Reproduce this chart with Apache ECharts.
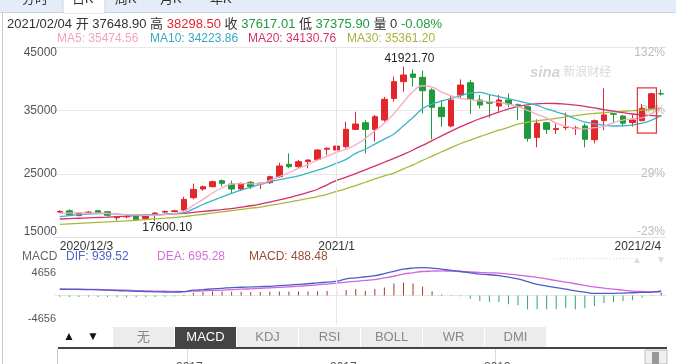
<!DOCTYPE html>
<html><head><meta charset="utf-8">
<script src="https://cdn.jsdelivr.net/npm/echarts/dist/echarts.min.js"></script>
<style>html,body{margin:0;padding:0;background:#fff}#c{width:676px;height:364px}</style>
</head><body><div id="c"></div><script>
const dates = ['2020/12/3','2020/12/4','2020/12/5','2020/12/6','2020/12/7','2020/12/8','2020/12/9','2020/12/10','2020/12/11','2020/12/12','2020/12/13','2020/12/14','2020/12/15','2020/12/16','2020/12/17','2020/12/18','2020/12/19','2020/12/20','2020/12/21','2020/12/22','2020/12/23','2020/12/24','2020/12/25','2020/12/26','2020/12/27','2020/12/28','2020/12/29','2020/12/30','2020/12/31','2021/1/1','2021/1/2','2021/1/3','2021/1/4','2021/1/5','2021/1/6','2021/1/7','2021/1/8','2021/1/9','2021/1/10','2021/1/11','2021/1/12','2021/1/13','2021/1/14','2021/1/15','2021/1/16','2021/1/17','2021/1/18','2021/1/19','2021/1/20','2021/1/21','2021/1/22','2021/1/23','2021/1/24','2021/1/25','2021/1/26','2021/1/27','2021/1/28','2021/1/29','2021/1/30','2021/1/31','2021/2/1','2021/2/2','2021/2/3','2021/2/4'];
const opens  = [19000,19200,18450,18950,19220,19050,18100,18250,18300,18000,18750,19000,19100,19330,21270,22640,23000,23950,23420,22640,23690,23450,23630,24580,26520,26150,26950,27300,28900,28780,29300,32030,33080,32030,33500,36900,39540,40750,40220,38230,35500,32560,37440,39380,36650,36300,35700,36650,35900,35600,30770,33080,32000,32300,32150,32560,30400,33400,34500,34130,33100,33400,35340,37648.90];
const closes = [19100,18550,18800,19000,18900,18500,18250,18300,17800,18400,18850,19100,19200,21000,22580,23000,23790,23530,22640,23530,23000,23550,24580,26260,26150,26940,27200,28780,29050,29400,32030,32870,32030,34030,36760,39540,40590,40220,38120,35500,34030,36650,39010,36760,35870,36150,36650,36020,35800,30620,32980,32030,32150,32400,32250,30460,33400,34300,34400,33000,33500,35340,37647,37617.01];
const lows   = [18900,18380,18350,18800,18750,18300,17650,18000,17700,17900,17600.10,18900,19000,19200,21000,22370,22900,23000,21950,22320,22650,22640,23400,24400,25890,25890,25890,27100,27990,28600,29040,31900,28250,30090,33250,36390,37960,38750,34550,30460,32450,32350,36910,34450,35340,33870,34815,35500,33500,30090,29200,31300,31300,31900,31140,29200,29830,31900,33000,32450,32450,33300,35250,37375.90];
const highs  = [19300,19430,18950,19150,19300,19150,18350,18500,18350,18500,19000,19250,19350,21400,23500,23160,23950,24150,23950,23630,23900,23650,24740,26780,28250,27200,27300,28900,29200,29700,33240,34800,33500,34300,37150,40330,41921.70,41480,41270,38500,36650,37440,39900,39800,37440,37440,37440,37700,36100,35700,33610,33200,32900,34650,32600,32950,33600,38490,34600,34300,34290,36020,37800,38298.50];
const ma5  = [18800,18850,18900,18850,18850,18800,18700,18600,18550,18500,18500,18600,18800,19100,20100,21000,22000,22800,23400,23500,23450,23500,24000,24600,25200,25900,26500,27200,27800,28400,28900,29600,30600,31800,33000,34500,36300,38000,38900,38700,37900,37300,36900,36700,36500,36400,36300,36000,35600,35000,34400,33800,33000,32500,32200,32100,32300,32500,33100,33500,33700,33850,34500,35474.56];
const ma10 = [18280,18450,18600,18700,18780,18750,18680,18600,18540,18560,18600,18680,18780,18910,19500,20200,20800,21400,21950,22450,22900,23350,23750,24100,24400,24700,25150,25600,26100,26700,27300,28250,28900,29700,30500,31300,32600,33900,35300,36000,36500,36900,37350,37750,37850,37500,37200,36850,36500,36150,35800,35250,34800,34300,33700,33200,32900,32700,32560,32600,32700,33000,33500,34223.86];
const ma20 = [17910,17970,18030,18090,18150,18210,18280,18350,18430,18500,18570,18640,18720,18800,18950,19100,19250,19400,19560,19770,20000,20270,20580,20920,21280,21660,22100,22600,23300,24000,24500,25050,25650,26250,26850,27450,28100,28780,29500,30250,31000,31750,32450,33100,33700,34250,34750,35250,35650,35900,36050,36120,36100,36000,35850,35650,35400,35150,34900,34650,34450,34300,34200,34130.76];
const ma30 = [17070,17150,17230,17310,17390,17470,17550,17630,17720,17820,17930,18040,18160,18280,18470,18660,18850,19040,19230,19420,19610,19800,20050,20310,20580,20860,21150,21450,21800,22250,22700,23180,23700,24220,24700,25150,25800,26450,27150,27820,28500,29150,29800,30350,30880,31400,31900,32350,32850,33150,33380,33550,33760,33980,34200,34380,34530,34660,34780,34880,34970,35070,35200,35361.20];
const dif  = [1270,1250,1220,1190,1150,1076,1000,920,850,800,750,710,685,800,1076,1200,1330,1460,1600,1670,1730,1800,1860,1990,2120,2250,2380,2550,2720,2900,3360,3580,3800,4010,4450,4880,5320,5550,5650,5550,5320,5100,4860,4600,4340,4200,4010,3700,3360,2800,2250,1920,1600,1270,940,690,430,430,430,500,560,620,690,939.52];
const dea  = [1300,1290,1270,1250,1220,1180,1120,1060,1000,950,900,860,820,800,880,950,1020,1100,1200,1280,1360,1440,1530,1640,1760,1880,1990,2150,2320,2500,2700,2880,3060,3230,3560,3900,4340,4600,4860,4930,4990,4930,4860,4760,4670,4600,4530,4340,4140,3900,3680,3350,3030,2700,2380,2050,1730,1500,1270,1080,880,810,750,695.28];
const macd = [-250,-300,-300,-250,-300,-300,-350,-350,-350,-300,-300,-250,-200,150,500,700,800,800,750,750,700,700,750,800,800,800,800,850,900,980,1100,1300,980,1300,1630,2410,2600,2410,1760,850,200,-100,-150,-650,-1100,-1300,-1300,-1760,-1960,-2800,-2800,-2800,-2800,-2600,-2800,-2600,-2150,-1500,-1300,-1100,-980,-460,-100,488.48];
const xTickIdx  = [0, 29, 63];
const xTickText = ['2020/12/3', '2021/1', '2021/2/4'];
const priceTicks = [15000, 25000, 35000, 45000];
const priceLabels = ['15000', '25000', '35000', '45000'];
const pctLabels  = ['-23%', '29%', '80%', '132%'];
const macdTicks  = [-4656, 4656];
const macdLabels = ['-4656', '4656'];
const hiIdx = 36, hiVal = 41921.70, loIdx = 10, loVal = 17600.10;
const boxBand = [61, 62, 38550, 31450];

const F = "'Liberation Sans','Noto Sans CJK SC',sans-serif";
const RED = '#e3262c', GREEN = '#1f9a3c';
const chart = echarts.init(document.getElementById('c'), null, {renderer: 'canvas'});

function t(x, y, text, color, size, extra) {
  return Object.assign({type: 'text', x: x, y: y, silent: true,
    style: Object.assign({text: text, fill: color, font: (size || 12) + 'px ' + F, verticalAlign: 'middle'}, extra || {})});
}
const tabs = [['无',113,174],['MACD',175,236],['KDJ',237,298],['RSI',299,360],['BOLL',361,422],['WR',423,484],['DMI',485,546]];
const graphics = [
  {type:'rect', shape:{x:0,y:0,width:676,height:12}, style:{fill:'#e3ecf7'}, silent:true},
  {type:'rect', shape:{x:63,y:-1,width:42,height:14}, style:{fill:'#fff', stroke:'#c9d5e3'}, silent:true},
  {type:'rect', shape:{x:0,y:12,width:676,height:1}, style:{fill:'#c9d5e3'}, silent:true},
  {type:'rect', shape:{x:64,y:12,width:40,height:1}, style:{fill:'#fff'}, silent:true},
  {type:'rect', shape:{x:2,y:12,width:1,height:352}, style:{fill:'#c8c8c8'}, silent:true},
  t(22, -1, '分时', '#333', 13), t(72, -1, '日K', '#333', 13), t(115, -1, '周K', '#333', 13), t(160, -1, '月K', '#333', 13), t(210, -1, '年K', '#333', 13),
  {type:'text', x:7, y:24, silent:true, style:{
    text: '{k|2021/02/04 开 37648.90 高 }{r|38298.50}{k| 收 }{g|37617.01}{k| 低 }{g|37375.90}{k| 量 0 }{g|-0.08%}',
    verticalAlign:'middle', font: '13px ' + F,
    rich:{k:{fill:'#333', font:'13px ' + F}, r:{fill:RED, font:'13px ' + F}, g:{fill:GREEN, font:'13px ' + F}}}},
  t(57, 39, 'MA5: 35474.56', '#f2a3bd', 12), t(150, 39, 'MA10: 34223.86', '#36a9c6', 12),
  t(248, 39, 'MA20: 34130.76', '#d5336b', 12), t(347, 39, 'MA30: 35361.20', '#aab23c', 12),
  {type:'text', x:530, y:73, silent:true, style:{text:'{s|sina}{c| 新浪财经}', verticalAlign:'middle',
    rich:{s:{fill:'#d4d4d4', font:'italic bold 15px ' + F}, c:{fill:'#d8d8d8', font:'12px ' + F}}}},
  t(22, 257, 'MACD', '#666', 12), t(66, 257, 'DIF: 939.52', '#5064c6', 12),
  t(157, 257, 'DEA: 695.28', '#d273d6', 12), t(249, 257, 'MACD: 488.48', '#9c4d35', 12),
  t(552, 259, '··························', '#d8d8d8', 10), t(632, 260, '▲', '#dcdcdc', 10), t(656, 260, '▼', '#dcdcdc', 10),
  t(63, 337, '▲', '#111', 12), t(87, 337, '▼', '#111', 12),
  {type:'rect', shape:{x:58,y:347,width:609,height:2}, style:{fill:'#444'}, silent:true},
  {type:'rect', shape:{x:57,y:349,width:1,height:15}, style:{fill:'#c8c8c8'}, silent:true},
  {type:'rect', shape:{x:187,y:349,width:1,height:15}, style:{fill:'#ddd'}, silent:true},
  {type:'rect', shape:{x:495,y:349,width:1,height:15}, style:{fill:'#ddd'}, silent:true},
  t(176, 368, '2017', '#555', 12), t(330, 368, '2017', '#555', 12), t(484, 368, '2019', '#555', 12),
  {type:'rect', shape:{x:645,y:350,width:22,height:14}, style:{fill:'#f0f0f0', stroke:'#bbb'}, silent:true},
  {type:'rect', shape:{x:652,y:352,width:7,height:12}, style:{fill:'#999'}, silent:true}
];
tabs.forEach(function (tb) {
  const act = tb[0] === 'MACD';
  graphics.push({type:'rect', shape:{x:tb[1], y:327, width:tb[2]-tb[1], height:20}, style:{fill: act ? '#444' : '#ececec'}, silent:true});
  graphics.push(t((tb[1]+tb[2])/2, 337, tb[0], act ? '#fff' : '#888', 13, {align:'center'}));
});

const option = {
  animation: false,
  textStyle: {fontFamily: F},
  grid: [
    {left: 55, right: 10, top: 47, height: 190.5},
    {left: 55, right: 10, top: 267, height: 57}
  ],
  xAxis: [
    {type:'category', gridIndex:0, data:dates, boundaryGap:true,
     axisLine:{show:true, lineStyle:{color:'#e2e2e2'}}, axisTick:{show:false},
     axisLabel:{interval: function (i) { return xTickIdx.indexOf(i) >= 0; },
       formatter: function (v, i) { const k = xTickIdx.indexOf(i); return k >= 0 ? xTickText[k] : ''; },
       color:'#333', fontSize:12, margin:3, alignMinLabel:'left', alignMaxLabel:'right'},
     splitLine:{show:false}},
    {type:'category', gridIndex:1, data:dates, boundaryGap:true, position:'top',
     axisLine:{show:true, lineStyle:{color:'#e6e6e6'}}, axisTick:{show:false}, axisLabel:{show:false}, splitLine:{show:false}}
  ],
  yAxis: [
    {type:'value', gridIndex:0, min:priceTicks[0], max:priceTicks[3], interval:10000, position:'left',
     axisLine:{show:false}, axisTick:{show:false},
     axisLabel:{color:'#555', fontSize:12, margin:-2, verticalAlignMinLabel:'bottom', verticalAlignMaxLabel:'top',
       formatter: function (v) { return priceLabels[priceTicks.indexOf(v)]; }},
     splitLine:{lineStyle:{color:'#e8e8e8'}}},
    {type:'value', gridIndex:0, min:priceTicks[0], max:priceTicks[3], interval:10000, position:'right',
     axisLine:{show:false}, axisTick:{show:false}, splitLine:{show:false},
     axisLabel:{inside:true, margin:1, color:'#bdbdbd', fontSize:12,
       formatter: function (v) { return pctLabels[priceTicks.indexOf(v)]; },
       verticalAlignMinLabel:'bottom', verticalAlignMaxLabel:'top'}},
    {type:'value', gridIndex:1, min:-5771, max:5771, position:'left',
     axisLine:{show:false}, axisTick:{show:false}, splitLine:{show:false},
     axisLabel:{customValues: macdTicks, color:'#555', fontSize:11, margin:-1,
       formatter: function (v) { const k = macdTicks.indexOf(v); return k >= 0 ? macdLabels[k] : ''; }}}
  ],
  series: [
    {type:'candlestick', xAxisIndex:0, yAxisIndex:0, barWidth:6, z:2,
     data: dates.map(function (d, i) { return [opens[i], closes[i], lows[i], highs[i]]; }),
     itemStyle:{color:RED, color0:GREEN, borderColor:RED, borderColor0:GREEN, borderWidth:1},
     markPoint:{symbol:'circle', symbolSize:0, silent:true,
       data:[
         {coord:[hiIdx, hiVal], value:hiVal, label:{show:true, position:'top', distance:2, offset:[6,0], color:'#222', fontSize:12, formatter: hiVal.toFixed(2)}},
         {coord:[loIdx, loVal], value:loVal, label:{show:true, position:'bottom', distance:1, offset:[12,0], color:'#222', fontSize:12, formatter: loVal.toFixed(2)}}
       ]},
     markLine:{silent:true, symbol:'none', label:{show:false}, lineStyle:{color:'#e4e4e4', type:'solid', width:1}, data:[{xAxis: dates[29]}]}
    },
    {type:'line', name:'MA30', data:ma30, xAxisIndex:0, yAxisIndex:0, symbol:'none', smooth:true, z:3, lineStyle:{color:'#a9b83a', width:1.3}},
    {type:'line', name:'MA20', data:ma20, xAxisIndex:0, yAxisIndex:0, symbol:'none', smooth:true, z:3, lineStyle:{color:'#d4306c', width:1.3}},
    {type:'line', name:'MA10', data:ma10, xAxisIndex:0, yAxisIndex:0, symbol:'none', smooth:true, z:3, lineStyle:{color:'#3bb4c8', width:1.3}},
    {type:'line', name:'MA5', data:ma5, xAxisIndex:0, yAxisIndex:0, symbol:'none', smooth:true, z:3, lineStyle:{color:'#f5a9c3', width:1.3}},
    {type:'custom', xAxisIndex:0, yAxisIndex:0, z:4, silent:true, data:[boxBand],
     renderItem: function (params, api) {
       const a = api.coord([api.value(0), api.value(2)]);
       const b = api.coord([api.value(1), api.value(3)]);
       const w = api.size([1, 0])[0];
       return {type:'rect', shape:{x:a[0]-w/2, y:a[1], width:b[0]-a[0]+w, height:b[1]-a[1]},
         style:{fill:'none', stroke:'#e0383c', lineWidth:1.2}};
     }},
    {type:'bar', xAxisIndex:1, yAxisIndex:2, data:macd, barWidth:1, z:2,
     itemStyle:{color: function (p) { return p.value >= 0 ? '#a8392a' : '#2fa37e'; }},
     markLine:{silent:true, symbol:'none', label:{show:false}, lineStyle:{color:'#e8e8e8', type:'solid', width:1}, data:[{xAxis: dates[29]}]}},
    {type:'line', name:'DEA', data:dea, xAxisIndex:1, yAxisIndex:2, symbol:'none', smooth:true, clip:false, z:3, lineStyle:{color:'#d562e0', width:1.3}},
    {type:'line', name:'DIF', data:dif, xAxisIndex:1, yAxisIndex:2, symbol:'none', smooth:true, clip:false, z:3, lineStyle:{color:'#4a5fc6', width:1.3}}
  ],
  graphic: graphics
};
chart.setOption(option);
</script></body></html>
